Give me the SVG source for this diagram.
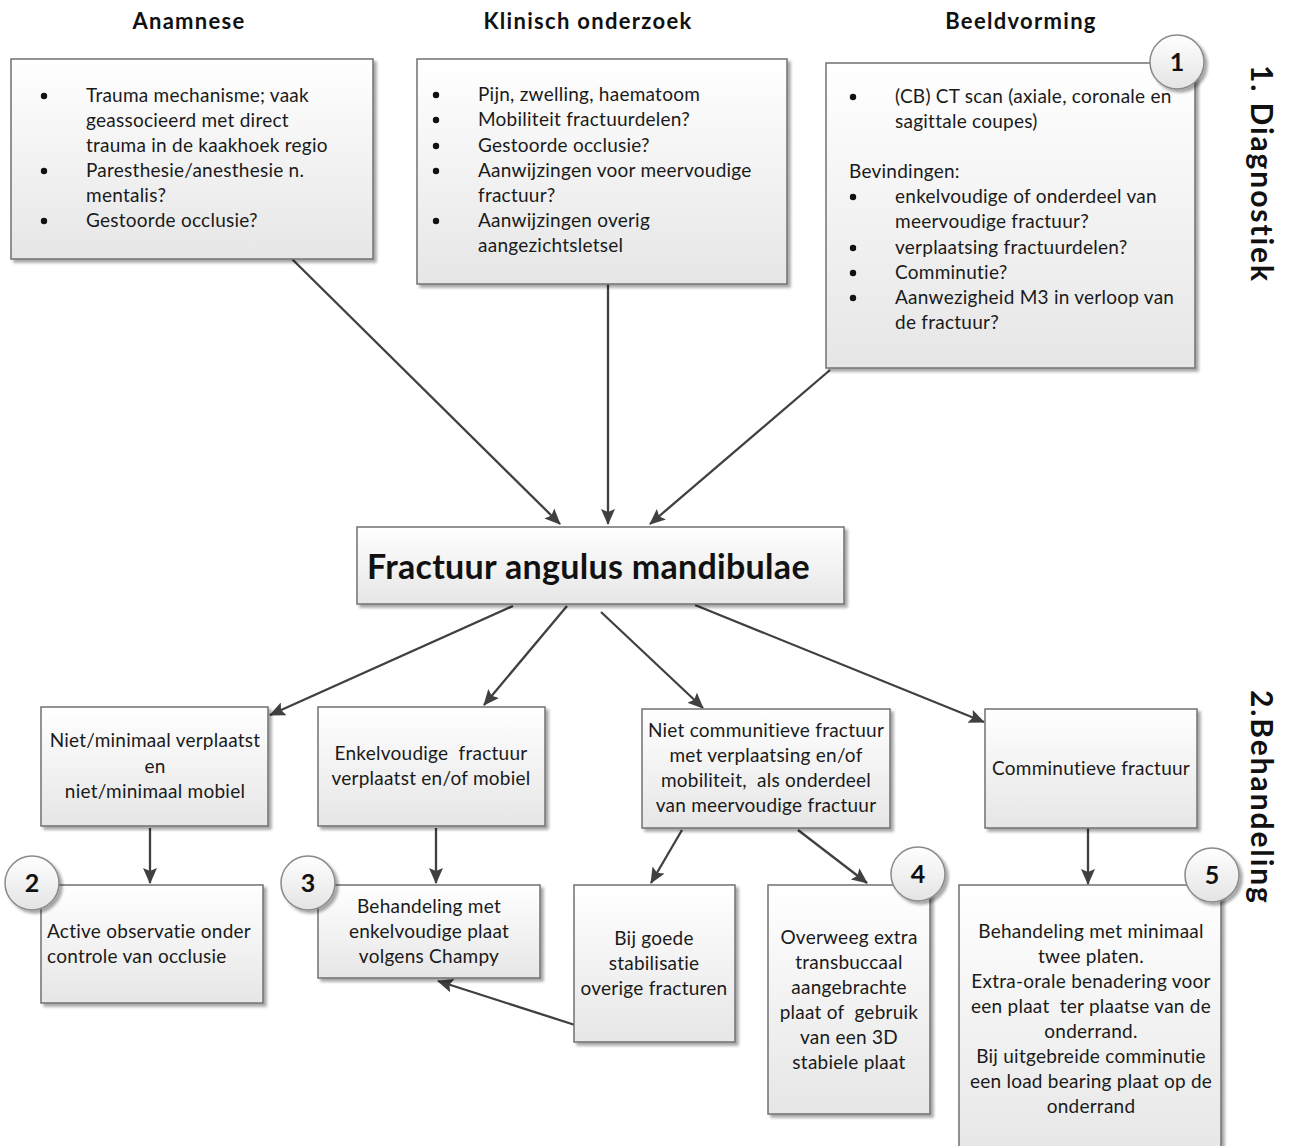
<svg xmlns="http://www.w3.org/2000/svg" width="1293" height="1146" viewBox="0 0 1293 1146">
<defs>
<linearGradient id="bg" x1="0" y1="0" x2="0" y2="1">
<stop offset="0" stop-color="#ffffff"/>
<stop offset="1" stop-color="#e6e6e6"/>
</linearGradient>
<linearGradient id="cg" x1="0" y1="0" x2="0" y2="1">
<stop offset="0" stop-color="#ffffff"/>
<stop offset="1" stop-color="#e4e4e4"/>
</linearGradient>
<filter id="sh" x="-10%" y="-10%" width="120%" height="120%">
<feGaussianBlur in="SourceAlpha" stdDeviation="1.5"/>
<feOffset dx="3" dy="3" result="o"/>
<feComponentTransfer><feFuncA type="linear" slope="0.35"/></feComponentTransfer>
<feMerge><feMergeNode/><feMergeNode in="SourceGraphic"/></feMerge>
</filter>
<marker id="ah" viewBox="0 0 16 14" refX="15" refY="7" markerWidth="16" markerHeight="14" markerUnits="userSpaceOnUse" orient="auto">
<path d="M0,0 L16,7 L0,14 L3,7 Z" fill="#404040"/>
</marker>
</defs>
<style>
.box{fill:url(#bg);stroke:#707070;stroke-width:1.5;filter:url(#sh)}
.circ{fill:url(#cg);stroke:#8a8a8a;stroke-width:1.5;filter:url(#sh)}
.t{font-family:Lato,"Liberation Sans",sans-serif;font-size:19px;letter-spacing:0.25px;fill:#1a1a1a;white-space:pre}
.c{text-anchor:middle}
.h{font-family:Lato,"Liberation Sans",sans-serif;font-size:22px;letter-spacing:1.3px;font-weight:bold;fill:#111;text-anchor:middle}
.n{font-family:Lato,"Liberation Sans",sans-serif;font-size:25px;font-weight:bold;fill:#111;text-anchor:middle}
.v{font-family:Lato,"Liberation Sans",sans-serif;font-size:30px;letter-spacing:1.9px;font-weight:bold;fill:#111}
.bul{fill:#111}
.con{stroke:#404040;stroke-width:2.3;fill:none;marker-end:url(#ah)}
</style>
<rect width="1293" height="1146" fill="#ffffff"/>

<g id="headers">
<text class="h" x="189" y="29">Anamnese</text>
<text class="h" x="588" y="29">Klinisch onderzoek</text>
<text class="h" x="1021" y="29">Beeldvorming</text>
<text class="v" transform="translate(1251,65) rotate(90)">1. Diagnostiek</text>
<text class="v" transform="translate(1251,690) rotate(90)">2.Behandeling</text>
</g>

<g id="connectors">
<line class="con" x1="292" y1="259" x2="560" y2="524"/>
<line class="con" x1="608" y1="284" x2="608" y2="524"/>
<line class="con" x1="830" y1="370" x2="650" y2="524"/>
<line class="con" x1="513" y1="606" x2="270" y2="715"/>
<line class="con" x1="567" y1="606" x2="484" y2="705"/>
<line class="con" x1="601" y1="612" x2="703" y2="708"/>
<line class="con" x1="695" y1="605" x2="984" y2="722"/>
<line class="con" x1="150" y1="828" x2="150" y2="883"/>
<line class="con" x1="436" y1="828" x2="436" y2="883"/>
<line class="con" x1="682" y1="830" x2="651" y2="883"/>
<line class="con" x1="798" y1="830" x2="867" y2="883"/>
<line class="con" x1="1088" y1="828" x2="1088" y2="884"/>
<line class="con" x1="575" y1="1025" x2="438" y2="981"/>
</g>

<g id="anamnese">
<rect class="box" x="11" y="59" width="362" height="200"/>
<circle class="bul" cx="44" cy="96" r="3.2"/>
<circle class="bul" cx="44" cy="171" r="3.2"/>
<circle class="bul" cx="44" cy="221" r="3.2"/>
<text class="t" x="86" y="102">Trauma mechanisme; vaak</text>
<text class="t" x="86" y="127">geassocieerd met direct</text>
<text class="t" x="86" y="152">trauma in de kaakhoek regio</text>
<text class="t" x="86" y="177">Paresthesie/anesthesie n.</text>
<text class="t" x="86" y="202">mentalis?</text>
<text class="t" x="86" y="227">Gestoorde occlusie?</text>
</g>

<g id="klinisch">
<rect class="box" x="417" y="59" width="370" height="225"/>
<circle class="bul" cx="436" cy="95" r="3.2"/>
<circle class="bul" cx="436" cy="120" r="3.2"/>
<circle class="bul" cx="436" cy="146" r="3.2"/>
<circle class="bul" cx="436" cy="171" r="3.2"/>
<circle class="bul" cx="436" cy="221" r="3.2"/>
<text class="t" x="478" y="101">Pijn, zwelling, haematoom</text>
<text class="t" x="478" y="126">Mobiliteit fractuurdelen?</text>
<text class="t" x="478" y="152">Gestoorde occlusie?</text>
<text class="t" x="478" y="177">Aanwijzingen voor meervoudige</text>
<text class="t" x="478" y="202">fractuur?</text>
<text class="t" x="478" y="227">Aanwijzingen overig</text>
<text class="t" x="478" y="252">aangezichtsletsel</text>
</g>

<g id="beeldvorming">
<rect class="box" x="826" y="63" width="369" height="305"/>
<circle class="bul" cx="853" cy="97" r="3.2"/>
<circle class="bul" cx="853" cy="197" r="3.2"/>
<circle class="bul" cx="853" cy="248" r="3.2"/>
<circle class="bul" cx="853" cy="273" r="3.2"/>
<circle class="bul" cx="853" cy="298" r="3.2"/>
<text class="t" x="895" y="103">(CB) CT scan (axiale, coronale en</text>
<text class="t" x="895" y="128">sagittale coupes)</text>
<text class="t" x="849" y="178">Bevindingen:</text>
<text class="t" x="895" y="203">enkelvoudige of onderdeel van</text>
<text class="t" x="895" y="228">meervoudige fractuur?</text>
<text class="t" x="895" y="254">verplaatsing fractuurdelen?</text>
<text class="t" x="895" y="279">Comminutie?</text>
<text class="t" x="895" y="304">Aanwezigheid M3 in verloop van</text>
<text class="t" x="895" y="329">de fractuur?</text>
</g>
<g id="badge1">
<circle class="circ" cx="1177" cy="62" r="27"/>
<text class="n" x="1177" y="71">1</text>
</g>

<g id="fractuur">
<rect class="box" x="357" y="527" width="487" height="77"/>
<text x="367" y="579" style="font-family:Lato,'Liberation Sans',sans-serif;font-size:34px;letter-spacing:0.3px;font-weight:bold;fill:#111">Fractuur angulus mandibulae</text>
</g>

<g id="niet-minimaal">
<rect class="box" x="41" y="707" width="227" height="119"/>
<text class="t c" x="155" y="747">Niet/minimaal verplaatst</text>
<text class="t c" x="155" y="773">en</text>
<text class="t c" x="155" y="798">niet/minimaal mobiel</text>
</g>

<g id="enkelvoudig">
<rect class="box" x="318" y="707" width="227" height="119"/>
<text class="t c" x="431" y="760">Enkelvoudige  fractuur</text>
<text class="t c" x="431" y="785">verplaatst en/of mobiel</text>
</g>

<g id="niet-comm">
<rect class="box" x="642" y="709" width="248" height="119"/>
<text class="t c" x="766" y="737">Niet communitieve fractuur</text>
<text class="t c" x="766" y="762">met verplaatsing en/of</text>
<text class="t c" x="766" y="787">mobiliteit,  als onderdeel</text>
<text class="t c" x="766" y="812">van meervoudige fractuur</text>
</g>

<g id="comminutief">
<rect class="box" x="985" y="709" width="212" height="119"/>
<text class="t c" x="1091" y="775">Comminutieve fractuur</text>
</g>

<g id="observatie">
<rect class="box" x="41" y="885" width="222" height="118"/>
<text class="t" x="47" y="938">Active observatie onder</text>
<text class="t" x="47" y="963">controle van occlusie</text>
</g>
<g id="badge2">
<circle class="circ" cx="32" cy="883" r="27"/>
<text class="n" x="32" y="892">2</text>
</g>

<g id="champy">
<rect class="box" x="318" y="885" width="222" height="93"/>
<text class="t c" x="429" y="913">Behandeling met</text>
<text class="t c" x="429" y="938">enkelvoudige plaat</text>
<text class="t c" x="429" y="963">volgens Champy</text>
</g>
<g id="badge3">
<circle class="circ" cx="308" cy="883" r="27"/>
<text class="n" x="308" y="892">3</text>
</g>

<g id="stabilisatie">
<rect class="box" x="574" y="885" width="161" height="157"/>
<text class="t c" x="654" y="945">Bij goede</text>
<text class="t c" x="654" y="970">stabilisatie</text>
<text class="t c" x="654" y="995">overige fracturen</text>
</g>

<g id="overweeg">
<rect class="box" x="768" y="885" width="162" height="229"/>
<text class="t c" x="849" y="944">Overweeg extra</text>
<text class="t c" x="849" y="969">transbuccaal</text>
<text class="t c" x="849" y="994">aangebrachte</text>
<text class="t c" x="849" y="1019">plaat of  gebruik</text>
<text class="t c" x="849" y="1044">van een 3D</text>
<text class="t c" x="849" y="1069">stabiele plaat</text>
</g>
<g id="badge4">
<circle class="circ" cx="918" cy="874" r="27"/>
<text class="n" x="918" y="883">4</text>
</g>

<g id="twee-platen">
<rect class="box" x="959" y="885" width="262" height="275"/>
<text class="t c" x="1091" y="938">Behandeling met minimaal</text>
<text class="t c" x="1091" y="963">twee platen.</text>
<text class="t c" x="1091" y="988">Extra-orale benadering voor</text>
<text class="t c" x="1091" y="1013">een plaat  ter plaatse van de</text>
<text class="t c" x="1091" y="1038">onderrand.</text>
<text class="t c" x="1091" y="1063">Bij uitgebreide comminutie</text>
<text class="t c" x="1091" y="1088">een load bearing plaat op de</text>
<text class="t c" x="1091" y="1113">onderrand</text>
</g>
<g id="badge5">
<circle class="circ" cx="1212" cy="875" r="27"/>
<text class="n" x="1212" y="884">5</text>
</g>
</svg>
